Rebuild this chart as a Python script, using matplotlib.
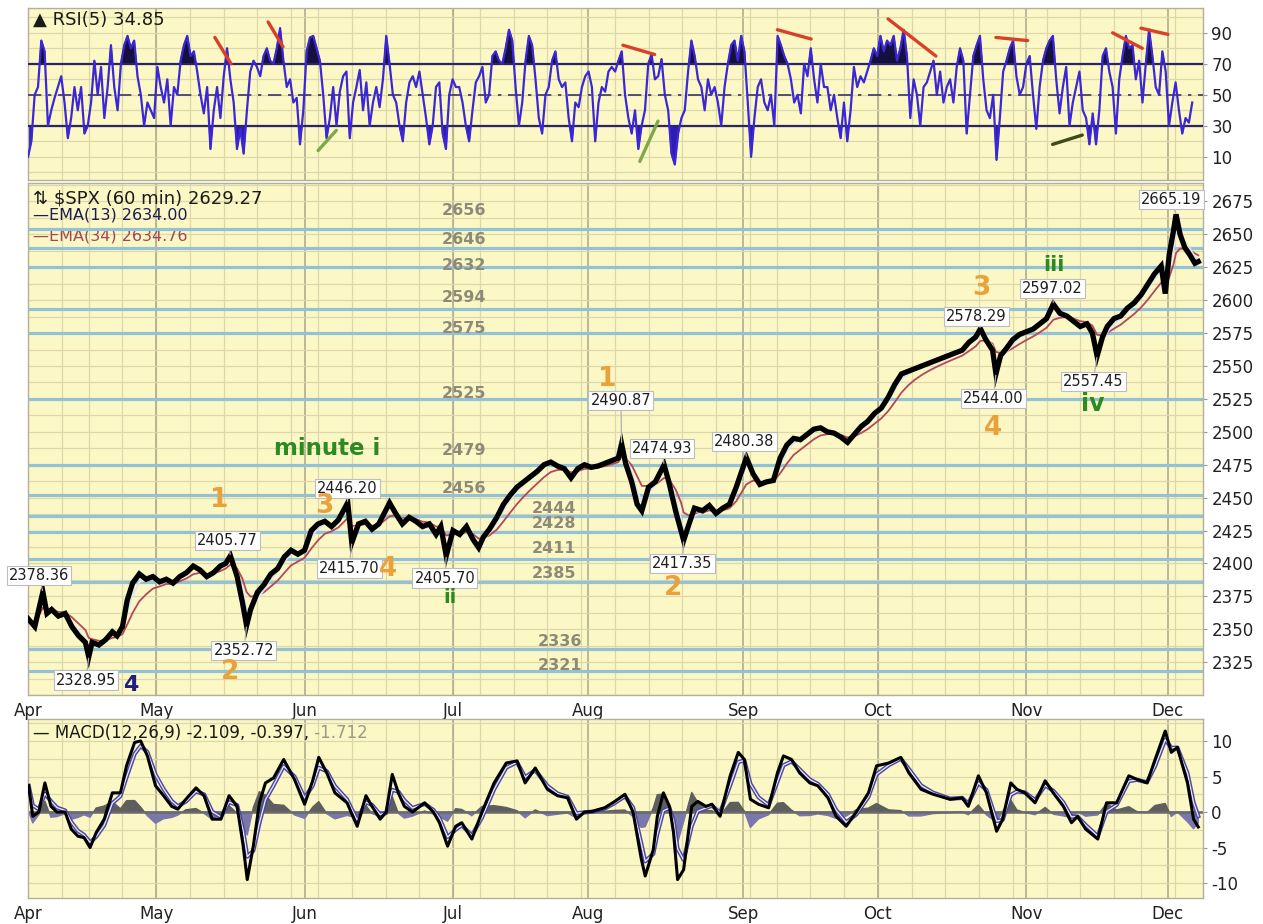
import numpy as np
import pandas as pd
import matplotlib
matplotlib.use('Agg')
import matplotlib.pyplot as plt

# ---- trading calendar (one unit on the x axis = one session) ----
holidays = ['2017-04-14', '2017-05-29', '2017-07-04', '2017-09-04', '2017-11-23']
sessions = pd.bdate_range('2017-04-03', '2017-12-07')
sessions = sessions[~sessions.isin(pd.to_datetime(holidays))]
month_names = ['Apr', 'May', 'Jun', 'Jul', 'Aug', 'Sep', 'Oct', 'Nov', 'Dec']

# ---- $SPX 60 min (session index, price) ----
price_day = [0, 1, 2.2, 2.8, 3.5, 4.5, 5.5, 6.5, 7.5, 8.5, 9.0, 9.5, 10.5, 11.5, 12.5, 13.2,
             14, 14.7, 15.5, 16.5, 17.5, 18.5, 19.5, 20.5, 21.5, 22.5, 23.5, 24.5, 25.5, 26.5,
             27.5, 28.5, 29.3, 30, 31, 31.8, 32.4, 33, 34, 35, 36, 37, 38, 39, 40, 41, 42, 43,
             44, 45, 46, 47.4, 48, 49, 50, 51, 52, 53.6, 54.5, 55.5, 56.5, 57.5, 58.5, 59.5,
             60.5, 61.2, 62, 63, 64, 65, 66, 66.8, 67.5, 68.4, 69.5, 70.5, 71.5, 72.5, 73.5,
             74.5, 75.5, 76.5, 77.5, 78.5, 79.5, 80.5, 81.5, 82.5, 83.5, 84.5, 85.5, 86.5,
             87.5, 88, 88.6, 89.5, 90.3, 91, 92, 93, 94.3, 95, 96, 96.8, 97.2, 98, 98.8, 100,
             101, 102, 103, 104, 105, 106.5, 107.5, 108.5, 109.5, 110.5, 111.5, 112.5, 113.5,
             114.5, 115.5, 116.5, 117.5, 118.5, 119.5, 120.5, 121.5, 122.5, 123.5, 124.5,
             125.5, 126.5, 127.5, 128.5, 129.5, 130.5, 131.5, 132.5, 133.5, 134.5, 135.5,
             136.5, 137.5, 138.5, 139.5, 140.5, 141.2, 142, 143, 143.5, 144.2, 145, 146, 147,
             148, 149, 150, 151, 152, 153, 154, 155, 156, 157, 157.8, 158.5, 159.3, 160, 161,
             162, 163, 164, 165, 166, 167, 168, 168.6, 169.2, 169.8, 170.2, 170.8, 171.5,
             172.3, 173, 173.5]
price_val = [2358, 2352, 2378.4, 2362, 2365, 2360, 2362, 2352, 2345, 2340, 2329, 2340, 2338,
             2342, 2348, 2345, 2352, 2372, 2385, 2392, 2388, 2390, 2386, 2388, 2385, 2390,
             2393, 2398, 2395, 2390, 2393, 2398, 2400, 2405.8, 2390, 2370, 2352.7, 2365, 2378,
             2384, 2392, 2396, 2405, 2410, 2407, 2410, 2425, 2430, 2432, 2428, 2433, 2446.2,
             2415.7, 2430, 2432, 2426, 2430, 2446, 2438, 2430, 2435, 2432, 2428, 2430, 2422,
             2428, 2405.7, 2425, 2422, 2428, 2418, 2412, 2420, 2426, 2435, 2445, 2452, 2458,
             2462, 2466, 2470, 2475, 2477, 2474, 2472, 2465, 2472, 2475, 2473, 2474, 2476,
             2478, 2480, 2490.9, 2476, 2462, 2445, 2440, 2458, 2462, 2474.9, 2462, 2440, 2425,
             2417.4, 2430, 2442, 2440, 2444, 2438, 2442, 2445, 2458, 2480.4, 2468, 2460, 2462,
             2463, 2480, 2490, 2495, 2494, 2498, 2502, 2503, 2500, 2499, 2496, 2492, 2498,
             2504, 2508, 2514, 2518, 2526, 2536, 2544, 2546, 2548, 2550, 2552, 2554, 2556,
             2558, 2560, 2562, 2568, 2572, 2578.3, 2570, 2562, 2544, 2558, 2563, 2570, 2574,
             2576, 2578, 2582, 2586, 2597, 2590, 2588, 2584, 2580, 2582, 2575, 2557.5, 2572,
             2580, 2586, 2588, 2594, 2598, 2604, 2612, 2620, 2626, 2605, 2635, 2652, 2665.2,
             2650, 2640, 2634, 2628, 2629.3]

# horizontal support / resistance lines and their hand-written labels
level_lines = [2654, 2640, 2625, 2593, 2575, 2525, 2475, 2452, 2436, 2424, 2403, 2386, 2335, 2318.5]
level_text = ['2656', '2646', '2632', '2594', '2575', '2525', '2479', '2456',
              '2444', '2428', '2411', '2385', '2336', '2321']
level_text_pos = [(64.7, 2668), (64.7, 2646), (64.7, 2626.5), (64.7, 2602), (64.7, 2578.6),
                  (64.7, 2529), (64.7, 2486), (64.7, 2457), (78, 2442), (78, 2430),
                  (78, 2411.6), (78, 2392.6), (78.8, 2341), (78.8, 2322.7)]

# price call-outs: (text, point, box)
callouts = [('2378.36', (2.2, 2378.4), (1.6, 2391)),
            ('2328.95', (9.0, 2329), (8.6, 2311.3)),
            ('2405.77', (30, 2405.8), (29.6, 2417.6)),
            ('2352.72', (32.4, 2352.7), (32.0, 2334)),
            ('2446.20', (47.4, 2446.2), (47.3, 2457)),
            ('2415.70', (48, 2415.7), (47.6, 2396)),
            ('2405.70', (62, 2405.7), (61.8, 2388.8)),
            ('2490.87', (88, 2490.9), (87.9, 2524)),
            ('2474.93', (94.3, 2474.9), (94.0, 2487.5)),
            ('2480.38', (106.5, 2480.4), (106.2, 2492.8)),
            ('2417.35', (97.2, 2417.4), (97.0, 2400)),
            ('2578.29', (141.2, 2578.3), (140.6, 2587.7)),
            ('2597.02', (152, 2597), (151.9, 2609)),
            ('2544.00', (143.5, 2544), (143.1, 2525.5)),
            ('2557.45', (158.5, 2557.5), (157.9, 2538)),
            ('2665.19', (170.2, 2665.2), (169.5, 2676.6))]

# Elliott wave labels: (text, x, y, colour, size)
wave_labels = [('1', 28.4, 2448, '#e9a23b', 19), ('2', 29.9, 2317.5, '#e9a23b', 19),
               ('3', 44.0, 2443.5, '#e9a23b', 19), ('4', 53.3, 2396, '#e9a23b', 19),
               ('1', 85.8, 2540, '#e9a23b', 19), ('2', 95.6, 2381, '#e9a23b', 19),
               ('3', 141.3, 2609, '#e9a23b', 19), ('4', 143.1, 2503, '#e9a23b', 19),
               ('4', 15.3, 2307.5, '#22207e', 16),
               ('minute i', 44.4, 2487.5, '#2b8a22', 16.5), ('ii', 62.5, 2374, '#2b8a22', 14),
               ('iii', 152.1, 2627, '#2b8a22', 15), ('iv', 157.8, 2521, '#2b8a22', 17)]

# ---- RSI(5), evenly spaced across the chart ----
rsi_vals = [10, 20, 50, 55, 85, 78, 30, 40, 48, 55, 62, 45, 22, 35, 55, 40, 55, 25, 30, 45,
            72, 50, 68, 35, 55, 82, 55, 40, 70, 82, 88, 80, 85, 62, 50, 30, 45, 40, 35, 68,
            55, 45, 60, 30, 55, 50, 72, 82, 88, 75, 78, 65, 50, 38, 55, 15, 40, 55, 35, 62,
            80, 60, 45, 15, 28, 12, 40, 65, 72, 68, 62, 75, 80, 72, 70, 80, 93, 72, 55, 60,
            45, 48, 18, 40, 78, 87, 88, 80, 72, 50, 22, 35, 55, 30, 52, 62, 65, 22, 45, 55,
            66, 40, 58, 30, 45, 55, 42, 60, 88, 70, 50, 45, 30, 20, 45, 58, 62, 55,
            65, 50, 35, 18, 30, 55, 58, 25, 15, 50, 60, 55, 55, 45, 30, 20, 40, 58, 62, 68,
            45, 50, 75, 78, 72, 70, 80, 92, 85, 55, 30, 45, 72, 88, 82, 60, 35, 25, 50, 55,
            72, 78, 60, 55, 58, 35, 20, 45, 42, 55, 62, 65, 55, 20, 45, 55, 52, 65, 68, 65,
            72, 78, 50, 35, 25, 40, 15, 30, 40, 70, 76, 60, 62, 73, 50, 40, 12, 5, 25, 35,
            40, 65, 85, 75, 60, 55, 40, 60, 50, 55, 45, 30, 55, 70, 82, 85, 72, 88, 78, 45,
            10, 35, 55, 60, 45, 40, 50, 30, 88, 82, 75, 70, 60, 45, 50, 38, 70, 62,
            80, 60, 45, 70, 55, 55, 40, 50, 35, 22, 45, 20, 40, 68, 55, 62, 58, 65, 72, 80,
            75, 88, 78, 85, 82, 88, 72, 80, 92, 75, 35, 60, 50, 30, 55, 58, 65, 72, 50, 65,
            45, 55, 60, 45, 68, 80, 72, 25, 50, 75, 82, 88, 60, 40, 35, 50, 8, 35, 65, 72,
            80, 85, 62, 50, 55, 70, 75, 50, 28, 55, 72, 80, 85, 88, 60, 38, 55, 68, 30, 45,
            55, 65, 40, 35, 18, 38, 18, 40, 75, 80, 65, 55, 25, 60, 75, 88, 80, 82, 60, 72,
            45, 70, 92, 75, 55, 50, 78, 65, 30, 45, 58, 40, 25, 35, 32, 45]
rsi_last_day = 172.6

# hand-drawn divergence lines on the RSI: (x0, y0, x1, y1, colour)
rsi_trend = [(27.7, 87, 30.1, 70, '#d9402a'), (35.6, 97, 37.8, 81, '#d9402a'),
             (43.0, 14, 45.7, 27, '#7fa84a'), (88.2, 82, 92.9, 76, '#d9402a'),
             (90.7, 7, 93.4, 33, '#7fa84a'), (111.1, 92, 116.1, 86, '#d9402a'),
             (127.5, 99, 134.6, 75, '#d9402a'), (143.5, 87, 148.2, 85, '#d9402a'),
             (151.9, 18, 156.3, 24, '#3d4a1c'), (160.8, 90, 165.2, 80, '#d9402a'),
             (165.0, 93, 169.0, 89, '#d9402a')]

# ---- MACD(12,26,9) line ----
macd_day = [0.1, 0.7, 1.6, 2.5, 3.4, 4.3, 5.5, 6.4, 7.4, 8.3, 9.2, 10.1, 11.3, 12.5, 13.7,
            14.6, 15.8, 16.7, 17.7, 18.9, 20.1, 21.3, 22.2, 23.4, 24.9, 26.1, 27.3, 28.6,
            29.8, 31.0, 31.9, 32.5, 33.4, 34.3, 35.2, 36.4, 37.9, 39.5, 41.0, 42.2, 43.1,
            44.3, 45.5, 47.3, 48.8, 50.1, 51.0, 52.2, 53.1, 54.0, 54.9, 55.8, 57.0, 58.8,
            60.1, 61.0, 62.2, 63.4, 64.3, 65.8, 67.3, 69.1, 70.9, 72.5, 73.7, 75.2, 77.0,
            78.5, 80.0, 81.3, 82.5, 83.7, 85.5, 87.0, 88.5, 89.7, 90.9, 91.5, 92.7, 93.3,
            94.2, 95.1, 95.7, 96.3, 97.2, 98.4, 99.3, 100.5, 101.4, 102.6, 104.1, 105.3,
            106.2, 107.1, 108.3, 109.8, 111.1, 112.0, 113.2, 114.4, 115.9, 117.1, 118.6,
            119.8, 121.3, 122.8, 124.6, 125.8, 127.6, 129.4, 130.6, 132.4, 134.2, 136.7,
            138.5, 139.4, 140.9, 142.1, 143.6, 144.5, 145.7, 146.6, 147.8, 149.3, 150.8,
            152.0, 153.5, 154.7, 155.6, 156.8, 158.6, 159.9, 161.4, 163.2, 164.4, 165.9,
            167.1, 168.6, 169.5, 170.4, 171.9, 172.8, 173.5]
macd_val = [3.7, -0.6, 0.0, 4.1, 0.8, 0.0, 0.0, -2.4, -3.4, -3.6, -5.0, -2.9, -1.0, 2.7,
            2.7, 6.5, 9.8, 10.0, 7.9, 3.7, 2.3, 0.8, 0.4, 1.8, 3.4, 2.3, -1.0, -1.0, 2.3,
            0.8, -4.8, -9.5, -4.8, 1.3, 4.1, 4.8, 7.4, 4.6, 1.1, 4.4, 7.7, 5.5, 2.7, 1.3,
            -2.0, 2.3, 0.8, -1.0, 0.0, 5.3, 2.7, 0.8, 0.0, 1.3, 0.0, -1.5, -4.8, -2.0,
            -1.5, -3.8, 0.0, 4.1, 6.9, 7.2, 4.1, 6.2, 3.2, 2.3, 2.0, -1.0, 0.0, 0.1, 0.6,
            1.5, 2.5, 0.0, -6.5, -9.0, -5.3, -0.6, 2.7, 0.8, -2.9, -9.5, -8.1, 0.8, 1.5,
            0.8, 1.1, -0.6, 5.1, 8.4, 7.4, 1.8, 1.1, 0.6, 5.5, 7.9, 7.4, 5.5, 4.1, 3.7,
            2.0, -0.6, -2.0, 0.0, 2.7, 6.5, 6.9, 7.7, 5.5, 3.2, 2.5, 1.8, 2.0, 0.8, 5.1,
            2.7, -2.7, -1.0, 4.1, 3.2, 2.7, 1.3, 4.4, 2.7, 0.8, -1.5, -0.6, -2.4, -3.8,
            1.3, 1.3, 5.1, 4.6, 4.1, 7.4, 11.4, 8.4, 9.1, 4.1, -1.0, -2.1]

# ---- derived indicators (same definitions the chart uses) ----
t0 = pd.Timestamp('2017-04-03')
p_times = t0 + pd.to_timedelta(price_day, unit='D')
price_s = pd.Series(price_val)
ema13 = price_s.ewm(halflife=pd.Timedelta(hours=15), times=p_times).mean()
ema34 = price_s.ewm(halflife=pd.Timedelta(hours=40), times=p_times).mean()

m_times = t0 + pd.to_timedelta(macd_day, unit='D')
macd_s = pd.Series(macd_val)
signal = macd_s.ewm(halflife=pd.Timedelta(hours=17), times=m_times).mean()
hist = (macd_s - signal).values
macd_x = np.array(macd_day)

# ---- calendar derived tick positions ----
month_idx = [i for i in range(len(sessions)) if i == 0 or sessions[i].month != sessions[i - 1].month]
week_idx = [i for i in range(1, len(sessions)) if sessions[i].weekday() < sessions[i - 1].weekday()]

bg = '#fbf8c6'
grid_c = '#dcd8aa'
month_c = '#a9a78c'
spine_c = '#b3b09a'
XMAX = 174.2


def base_panel(a, ymin, ymax, ygrid):
    a.set_facecolor(bg)
    a.set_xlim(0, XMAX)
    a.set_ylim(ymin, ymax)
    for w in week_idx:
        a.axvline(w, color=grid_c, lw=0.9, zorder=0)
    for m in month_idx:
        a.axvline(m, color=month_c, lw=1.1, zorder=0)
    for g in ygrid:
        a.axhline(g, color=grid_c, lw=0.9, zorder=0)
    for s in a.spines.values():
        s.set_color(spine_c)
        s.set_linewidth(1.0)
    a.yaxis.tick_right()
    a.tick_params(axis='y', labelsize=12, colors='#222222', length=3, pad=3, color='#999999')
    a.tick_params(axis='x', length=0, pad=5, labelsize=12, colors='#222222')


fig = plt.figure(figsize=(12.63, 9.24), dpi=100)
fig.patch.set_facecolor('white')

# ---------------- RSI panel ----------------
ax_rsi = fig.add_axes([0.0222, 0.8052, 0.9303, 0.1861])
base_panel(ax_rsi, -5, 106, np.arange(0, 101, 10))
rsi = np.array(rsi_vals, dtype=float)
x_rsi = np.linspace(0, rsi_last_day, len(rsi))
ax_rsi.fill_between(x_rsi, rsi, 70, where=rsi >= 70, interpolate=True, color='#16103c', zorder=2)
ax_rsi.fill_between(x_rsi, rsi, 30, where=rsi <= 30, interpolate=True, color='#2d1db4', zorder=2)
ax_rsi.axhline(70, color='#2b2663', lw=1.6, zorder=3)
ax_rsi.axhline(30, color='#2b2663', lw=1.6, zorder=3)
ax_rsi.axhline(50, color='#3a3566', lw=1.2, ls=(0, (8, 4, 2, 4)), zorder=3)
ax_rsi.plot(x_rsi, rsi, color='#3b27d6', lw=1.6, zorder=4)
for x0, y0, x1, y1, c in rsi_trend:
    ax_rsi.plot([x0, x1], [y0, y1], color=c, lw=2.4, solid_capstyle='round', zorder=5)
ax_rsi.set_yticks([10, 30, 50, 70, 90])
ax_rsi.set_xticks([])
ax_rsi.text(0.004, 0.985, '\u25b2 RSI(5) 34.85', transform=ax_rsi.transAxes, ha='left', va='top',
            fontsize=13, color='#1a1a1a', zorder=6)

# ---------------- price panel ----------------
ax = fig.add_axes([0.0222, 0.2478, 0.9303, 0.5541])
base_panel(ax, 2300, 2689, np.arange(2300, 2690, 12.5))
for lv in level_lines:
    ax.axhline(lv, color='#93c1d6', lw=2.3, zorder=1)
for txt, (tx, ty) in zip(level_text, level_text_pos):
    ax.text(tx, ty, txt, ha='center', va='center', fontsize=11.5, fontweight='bold',
            color='#8d8b78', zorder=2)
ax.plot(price_day, ema34, color='#b5475a', lw=1.3, zorder=3)
ax.plot(price_day, ema13, color='#dfe4f4', lw=1.3, zorder=3)
ax.plot(price_day, price_val, color='black', lw=3.8, zorder=4, solid_joinstyle='miter')
for txt, (px, py), (bx, by) in callouts:
    ax.annotate(txt, xy=(px, py), xytext=(bx, by), textcoords='data', ha='center', va='center',
                fontsize=10.5, color='#1e1e1e', zorder=6,
                bbox=dict(boxstyle='square,pad=0.15', fc='white', ec='#bdbdbd', lw=0.8),
                arrowprops=dict(arrowstyle='-', color='#b0b0b0', lw=0.9, shrinkA=0, shrinkB=1))
for txt, tx, ty, c, fs in wave_labels:
    ax.text(tx, ty, txt, ha='center', va='center', fontsize=fs, fontweight='bold', color=c, zorder=7)
ax.set_yticks(np.arange(2325, 2676, 25))
ax.set_xticks(month_idx)
ax.set_xticklabels(month_names)
ax.text(0.004, 0.988, '\u21c5 $SPX (60 min) 2629.27', transform=ax.transAxes, ha='left', va='top',
        fontsize=13, color='#1a1a1a', zorder=8)
ax.text(0.004, 0.952, '\u2014EMA(13) 2634.00', transform=ax.transAxes, ha='left', va='top',
        fontsize=11.5, color='#1c1c55', zorder=8)
ax.text(0.004, 0.911, '\u2014EMA(34) 2634.76', transform=ax.transAxes, ha='left', va='top',
        fontsize=11.5, color='#a54656', zorder=0.5)

# ---------------- MACD panel ----------------
ax_m = fig.add_axes([0.0222, 0.0281, 0.9303, 0.1938])
base_panel(ax_m, -12.1, 13.1, np.arange(-12.5, 13.1, 2.5))
ax_m.fill_between(macd_x, hist, 0, where=hist >= 0, interpolate=True, color='#5e5e5e', zorder=2)
ax_m.fill_between(macd_x, hist, 0, where=hist <= 0, interpolate=True, color='#7a78aa', zorder=2)
ax_m.axhline(0, color='#6a6a6a', lw=1.8, zorder=2)
ax_m.plot(macd_x, signal, color='#4b45a8', lw=3.0, zorder=3)
ax_m.plot(macd_x, signal, color='#eeecf8', lw=0.9, zorder=3)
ax_m.plot(macd_x, macd_val, color='black', lw=2.2, zorder=4)
ax_m.set_yticks([-10, -5, 0, 5, 10])
ax_m.set_yticklabels(['-10', '-5', '0', '5', '10'])
ax_m.set_xticks(month_idx)
ax_m.set_xticklabels(month_names)
t1 = ax_m.text(0.004, 0.97, '\u2014 MACD(12,26,9) -2.109, -0.397,', transform=ax_m.transAxes,
               ha='left', va='top', fontsize=12, color='#1a1a1a', zorder=6)
ax_m.annotate(' -1.712', xy=(1, 0), xycoords=t1, ha='left', va='bottom', fontsize=12,
              color='#9a9a8a', zorder=6)

fig.savefig('out.png', dpi=100, facecolor='white')
